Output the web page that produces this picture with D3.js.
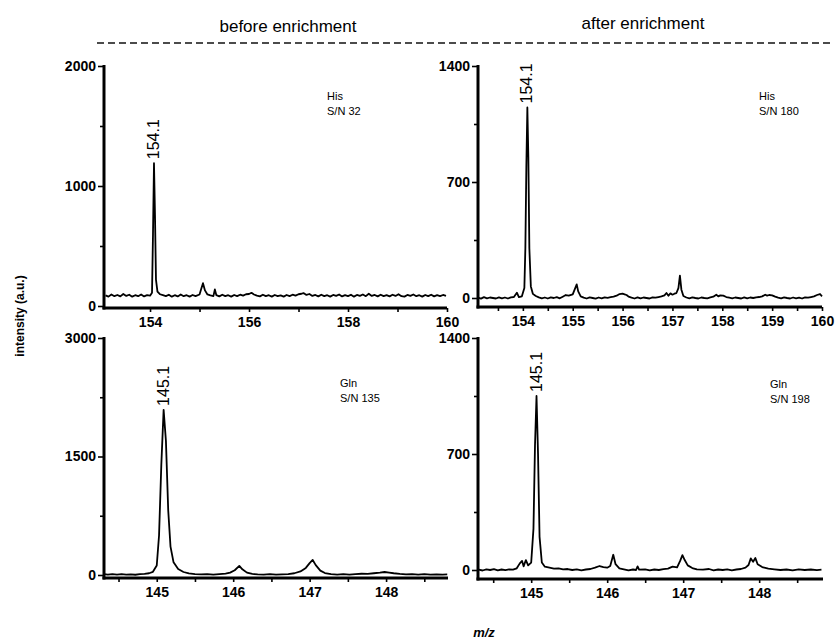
<!DOCTYPE html>
<html>
<head>
<meta charset="utf-8">
<script src="https://cdn.jsdelivr.net/npm/d3@7"></script>
<style>
  body { margin: 0; background: #fff; }
  svg { display: block; font-family: Arial, "Liberation Sans", sans-serif; }
</style>
</head>
<body>
<div id="chart"></div>
<script>
// His, before enrichment  [m/z, intensity]
const hisBefore = [
  [153.10,88],[153.16,78],[153.22,96],[153.28,82],[153.34,92],[153.40,80],[153.46,100],[153.52,84],
  [153.58,94],[153.64,78],[153.70,90],[153.76,82],[153.82,96],[153.88,80],[153.94,90],[154.00,86],
  [154.04,110],[154.06,600],[154.08,1190],[154.10,760],[154.12,220],[154.15,120],[154.20,98],
  [154.26,90],[154.32,82],[154.38,94],[154.44,78],[154.50,90],[154.56,80],[154.62,96],[154.68,82],
  [154.74,90],[154.80,78],[154.86,92],[154.92,82],[155.00,96],[155.04,150],[155.07,190],[155.11,130],
  [155.16,96],[155.22,88],[155.28,82],[155.31,138],[155.34,90],[155.40,80],[155.46,94],[155.52,82],
  [155.58,90],[155.64,78],[155.70,92],[155.76,82],[155.82,94],[155.88,86],[155.94,98],[156.00,100],
  [156.05,110],[156.10,96],[156.16,86],[156.22,80],[156.28,94],[156.34,82],[156.40,90],[156.46,78],
  [156.52,92],[156.58,82],[156.64,88],[156.70,78],[156.76,92],[156.82,82],[156.88,94],[156.94,86],
  [157.00,98],[157.06,102],[157.10,108],[157.16,92],[157.22,100],[157.28,84],[157.34,92],[157.40,80],
  [157.46,94],[157.52,82],[157.58,90],[157.64,78],[157.70,92],[157.76,84],[157.82,96],[157.88,80],
  [157.94,90],[158.00,82],[158.06,94],[158.12,78],[158.18,92],[158.24,84],[158.30,96],[158.36,82],
  [158.42,102],[158.48,84],[158.54,92],[158.60,80],[158.66,94],[158.72,82],[158.78,90],[158.84,80],
  [158.90,94],[158.96,84],[159.02,98],[159.08,82],[159.14,78],[159.20,92],[159.26,84],[159.32,96],
  [159.38,82],[159.44,90],[159.50,78],[159.56,92],[159.62,82],[159.68,94],[159.74,80],[159.80,90],
  [159.86,82],[159.92,92],[159.98,84]
];

// His, after enrichment
const hisAfter = [
  [153.10,2],[153.16,-4],[153.22,5],[153.28,-2],[153.34,3],[153.40,0],[153.46,-3],[153.52,4],
  [153.58,-2],[153.64,3],[153.70,-3],[153.76,4],[153.82,6],[153.88,32],[153.92,6],[153.98,10],
  [154.03,60],[154.05,300],[154.07,800],[154.09,1150],[154.11,850],[154.13,300],[154.16,70],
  [154.20,25],[154.26,12],[154.32,4],[154.38,-2],[154.44,3],[154.50,-3],[154.56,4],[154.62,0],
  [154.68,5],[154.74,-2],[154.80,8],[154.86,18],[154.92,14],[155.00,22],[155.05,60],[155.08,82],
  [155.11,40],[155.16,10],[155.22,2],[155.28,-3],[155.34,4],[155.40,0],[155.46,-4],[155.52,3],
  [155.58,-2],[155.64,4],[155.70,1],[155.76,5],[155.82,8],[155.88,14],[155.94,24],[156.00,26],
  [156.04,22],[156.08,18],[156.12,8],[156.18,2],[156.24,-3],[156.30,4],[156.36,-2],[156.42,3],
  [156.48,0],[156.54,-3],[156.60,4],[156.66,2],[156.72,6],[156.78,10],[156.84,16],[156.88,30],
  [156.92,14],[156.96,28],[157.00,20],[157.04,26],[157.08,30],[157.12,60],[157.15,135],[157.18,50],
  [157.22,12],[157.28,3],[157.34,-2],[157.40,4],[157.46,0],[157.52,-3],[157.58,3],[157.64,0],
  [157.70,-2],[157.76,4],[157.82,8],[157.88,20],[157.92,10],[157.96,16],[158.02,14],[158.08,6],
  [158.14,2],[158.20,-2],[158.26,3],[158.32,0],[158.38,-3],[158.44,4],[158.50,-2],[158.56,3],
  [158.62,0],[158.68,4],[158.74,6],[158.80,10],[158.86,20],[158.90,14],[158.94,18],[159.00,16],
  [159.06,8],[159.12,2],[159.18,-2],[159.24,4],[159.30,0],[159.36,-3],[159.42,3],[159.48,-2],
  [159.54,2],[159.60,-3],[159.66,4],[159.72,2],[159.78,6],[159.84,10],[159.90,18],[159.96,24],
  [160.00,10]
];

// Gln, before enrichment
const glnBefore = [
  [144.31,10],[144.36,4],[144.42,12],[144.48,6],[144.54,10],[144.60,4],[144.66,8],[144.72,3],
  [144.78,10],[144.84,14],[144.90,22],[144.95,40],[145.00,120],[145.03,500],[145.06,1400],
  [145.09,2090],[145.12,1700],[145.15,820],[145.18,360],[145.22,160],[145.28,75],[145.35,38],
  [145.42,20],[145.50,12],[145.58,8],[145.66,12],[145.74,6],[145.82,12],[145.90,18],[145.96,30],
  [146.02,60],[146.08,115],[146.12,72],[146.18,30],[146.25,14],[146.32,8],[146.40,4],[146.48,10],
  [146.56,5],[146.64,8],[146.72,12],[146.80,22],[146.88,45],[146.95,90],[147.00,150],[147.04,190],
  [147.08,125],[147.14,55],[147.20,25],[147.28,12],[147.36,6],[147.44,10],[147.52,4],[147.60,12],
  [147.68,16],[147.76,14],[147.84,22],[147.92,30],[147.98,38],[148.04,30],[148.10,22],[148.18,14],
  [148.26,8],[148.34,12],[148.42,6],[148.50,10],[148.58,4],[148.66,8],[148.74,5],[148.80,8]
];

// Gln, after enrichment
const glnAfter = [
  [144.31,2],[144.36,-3],[144.41,4],[144.46,0],[144.51,5],[144.56,-2],[144.61,3],[144.66,-1],
  [144.71,4],[144.76,2],[144.81,10],[144.85,40],[144.88,55],[144.90,22],[144.93,60],[144.96,28],
  [145.00,45],[145.03,250],[145.05,750],[145.07,1050],[145.09,700],[145.11,200],[145.14,45],
  [145.18,20],[145.24,14],[145.30,8],[145.36,10],[145.42,4],[145.48,6],[145.54,0],[145.60,4],
  [145.66,-2],[145.72,3],[145.78,6],[145.84,14],[145.90,24],[145.95,18],[146.00,14],[146.04,24],
  [146.08,92],[146.11,35],[146.16,10],[146.22,4],[146.28,-2],[146.34,3],[146.38,0],[146.40,22],
  [146.42,2],[146.50,4],[146.56,-2],[146.62,3],[146.68,0],[146.74,5],[146.80,8],[146.86,20],
  [146.92,16],[146.96,55],[146.99,90],[147.02,60],[147.06,28],[147.12,12],[147.18,4],[147.26,2],
  [147.34,6],[147.40,-2],[147.46,3],[147.52,0],[147.58,4],[147.64,-2],[147.70,3],[147.76,6],
  [147.82,14],[147.86,30],[147.89,70],[147.92,50],[147.95,72],[147.98,35],[148.04,18],[148.12,8],
  [148.20,4],[148.28,0],[148.36,3],[148.44,-2],[148.52,4],[148.60,0],[148.68,3],[148.76,-1],
  [148.82,2]
];

const xTicksHis = [[154,156,158,160],[154,155,156,157,158,159,160]];
const xMinorHis = [[155,157,159],[153.5,154.5,155.5,156.5,157.5,158.5,159.5]];
const xTicksGln = [145,146,147,148];
const xMinorGln = [144.5,145.5,146.5,147.5,148.5];

const panels = [
  { data: hisBefore, xDom: [153.07,160], xR: [104,447], yMax: 2000, y0: 306, yTop: 66, axisY: 308,
    yTicks: [0,1000,2000], yMinor: [500,1500], xTicks: xTicksHis[0], xMinor: xMinorHis[0],
    peak: 154.08, peakVal: 1190, peakLabel: '154.1', name: 'His', sn: 'S/N 32', nx: 327, ny: 100 },
  { data: hisAfter, xDom: [153.1,160], xR: [478,822], yMax: 1400, y0: 298, yTop: 66, axisY: 307,
    yTicks: [0,700,1400], yMinor: [350,1050], xTicks: xTicksHis[1], xMinor: xMinorHis[1],
    peak: 154.09, peakVal: 1150, peakLabel: '154.1', name: 'His', sn: 'S/N 180', nx: 759, ny: 100 },
  { data: glnBefore, xDom: [144.31,148.81], xR: [104,448], yMax: 3000, y0: 575, yTop: 338, axisY: 578,
    yTicks: [0,1500,3000], yMinor: [750,2250], xTicks: xTicksGln, xMinor: xMinorGln,
    peak: 145.09, peakVal: 2090, peakLabel: '145.1', name: 'Gln', sn: 'S/N 135', nx: 340, ny: 387 },
  { data: glnAfter, xDom: [144.3,148.84], xR: [478,823], yMax: 1400, y0: 570, yTop: 338, axisY: 579,
    yTicks: [0,700,1400], yMinor: [350,1050], xTicks: xTicksGln, xMinor: xMinorGln,
    peak: 145.07, peakVal: 1050, peakLabel: '145.1', name: 'Gln', sn: 'S/N 198', nx: 770, ny: 388 }
];

const W = 835, H = 639;
const svg = d3.select('#chart').append('svg').attr('width', W).attr('height', H);

// headers
svg.append('text').attr('x', 288).attr('y', 32).attr('text-anchor', 'middle')
  .attr('font-size', 17).text('before enrichment');
svg.append('text').attr('x', 643).attr('y', 29).attr('text-anchor', 'middle')
  .attr('font-size', 17).text('after enrichment');
svg.append('line').attr('x1', 97).attr('x2', 832).attr('y1', 43).attr('y2', 43)
  .attr('stroke', '#111').attr('stroke-width', 1.3).attr('stroke-dasharray', '7,4');

panels.forEach(p => {
  const x = d3.scaleLinear().domain(p.xDom).range(p.xR);
  const y = d3.scaleLinear().domain([0, p.yMax]).range([p.y0, p.yTop]);
  const g = svg.append('g');

  // y axis
  const ya = g.append('g').attr('transform', `translate(${p.xR[0]},0)`)
    .call(d3.axisLeft(y).tickValues(p.yTicks).tickSize(6).tickSizeOuter(0).tickPadding(2).tickFormat(d3.format('d')));
  ya.select('.domain').remove();
  g.append('g').attr('transform', `translate(${p.xR[0]},0)`)
    .call(d3.axisLeft(y).tickValues(p.yMinor).tickSize(4).tickFormat(''))
    .select('.domain').remove();
  g.append('line').attr('x1', p.xR[0]).attr('x2', p.xR[0]).attr('y1', p.yTop - 1).attr('y2', p.axisY + 1.5)
    .attr('stroke', '#000').attr('stroke-width', 3);

  // x axis
  const xa = g.append('g').attr('transform', `translate(0,${p.axisY})`)
    .call(d3.axisBottom(x).tickValues(p.xTicks).tickSize(4).tickPadding(5).tickFormat(d3.format('d')));
  xa.select('.domain').remove();
  g.append('g').attr('transform', `translate(0,${p.axisY})`)
    .call(d3.axisBottom(x).tickValues(p.xMinor).tickSize(4).tickFormat(''))
    .select('.domain').remove();
  g.append('line').attr('x1', p.xR[0] - 1.5).attr('x2', p.xR[1]).attr('y1', p.axisY).attr('y2', p.axisY)
    .attr('stroke', '#000').attr('stroke-width', 3);

  g.selectAll('.tick line').attr('stroke', '#000').attr('stroke-width', 1.6);
  g.selectAll('.tick text').attr('font-size', 14).attr('font-weight', 'bold')
    .attr('font-family', 'Arial, "Liberation Sans", sans-serif').attr('fill', '#000');

  // spectrum
  g.append('path').datum(p.data)
    .attr('fill', 'none').attr('stroke', '#000').attr('stroke-width', 1.8).attr('stroke-linejoin', 'round')
    .attr('d', d3.line().x(d => x(d[0])).y(d => y(d[1])));

  // peak label
  const px = x(p.peak) + 5, py = y(p.peakVal) - 4;
  g.append('text').attr('transform', `translate(${px},${py}) rotate(-90)`)
    .attr('font-size', 16).text(p.peakLabel);

  // name + S/N
  g.append('text').attr('x', p.nx).attr('y', p.ny).attr('font-size', 11).text(p.name);
  g.append('text').attr('x', p.nx).attr('y', p.ny + 15).attr('font-size', 11).text(p.sn);
});

svg.append('text').attr('transform', 'translate(24,316) rotate(-90)').attr('text-anchor', 'middle')
  .attr('font-size', 12).attr('font-weight', 'bold').text('intensity (a.u.)');
svg.append('text').attr('x', 484).attr('y', 637).attr('text-anchor', 'middle')
  .attr('font-size', 13).attr('font-weight', 'bold').attr('font-style', 'italic').text('m/z');
</script>
</body>
</html>
